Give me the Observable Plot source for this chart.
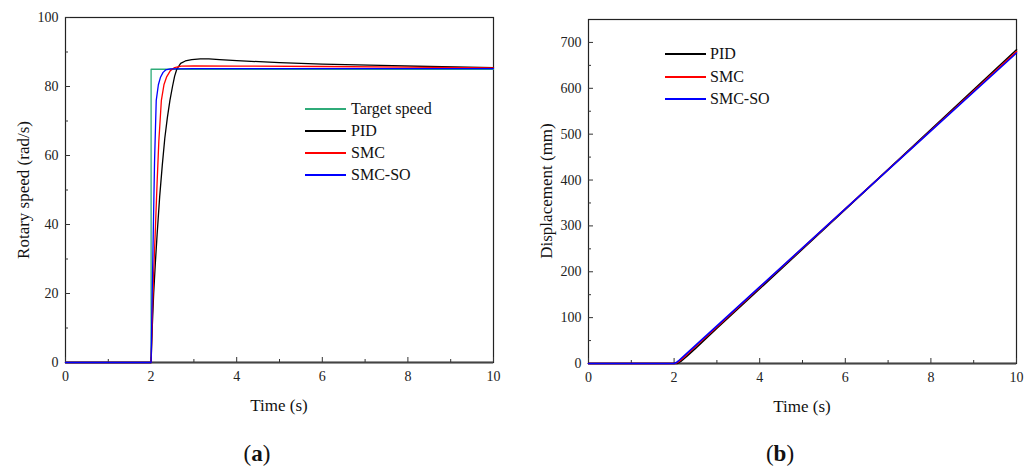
<!DOCTYPE html>
<html><head><meta charset="utf-8">
<script src="https://cdn.jsdelivr.net/npm/d3@7"></script>
<script src="https://cdn.jsdelivr.net/npm/@observablehq/plot@0.6"></script>
<style>
body{margin:0;background:#fff;font-family:"Liberation Serif",serif;}
#wrap{position:relative;width:1035px;height:469px;overflow:hidden;background:#fff}
.p{position:absolute;top:0}
.t{position:absolute;white-space:nowrap;color:#111;font-size:17px;line-height:1;font-family:"Liberation Serif",serif}
.lg{position:absolute;height:1.6px;width:41px}
.cap{position:absolute;font-size:23px;line-height:1;white-space:nowrap;font-family:"Liberation Serif",serif;color:#111}
</style></head>
<body><div id="wrap"></div>
<script>
// ---- Panel (a): rotary speed ----
const names = ["Target speed", "PID", "SMC", "SMC-SO"];
const colors = ["#2fab79", "#000000", "#ff0000", "#0000ff"];

const tTarget = [0, 2, 2, 10];
const vTarget = [0, 0, 85, 85];

const tPID = [0, 2, 2.03, 2.06, 2.1, 2.14, 2.2, 2.26, 2.32, 2.38, 2.44, 2.5, 2.55, 2.6, 2.69, 2.8, 2.95, 3.15, 3.35, 3.6, 4, 5, 6, 7.36, 8.5, 10];
const vPID = [0, 0, 11, 20, 29, 37, 48, 57, 65, 71, 76, 80, 83, 85, 86.7, 87.4, 87.8, 88.0, 88.0, 87.8, 87.5, 86.9, 86.5, 86.1, 85.8, 85.5];

const tSMC = [0, 2, 2.03, 2.06, 2.095, 2.14, 2.18, 2.24, 2.3, 2.36, 2.45, 2.55, 2.7, 3, 4, 6, 8, 10];
const vSMC = [0, 0, 14, 26, 37, 52, 64, 76, 80.5, 82.7, 84.6, 85.5, 85.9, 86.0, 85.9, 85.8, 85.6, 85.4];

const tSO = [0, 2, 2.02, 2.05, 2.08, 2.12, 2.17, 2.22, 2.28, 2.34, 2.45, 3, 10];
const vSO = [0, 0, 16, 37, 58, 76, 80.5, 82.7, 84.1, 84.8, 85.1, 85.2, 85.2];

const xMajor = [0, 2, 4, 6, 8, 10];
const xMinor = [1, 3, 5, 7, 9];
const yMajorA = [0, 20, 40, 60, 80, 100];
const yMinorA = [10, 30, 50, 70, 90];

// ---- Panel (b): displacement ----
const namesB = ["PID", "SMC", "SMC-SO"];
const colorsB = ["#000000", "#ff0000", "#0000ff"];
const tdPID = [0, 2, 2.07, 2.15, 2.3, 2.5, 3, 4, 6, 8, 10];
const dPID  = [0, 0, 0, 4, 16, 33, 77, 163, 336, 510, 684];
const tdSMC = [0, 2, 2.05, 2.1, 2.2, 2.5, 3, 4, 6, 8, 10];
const dSMC  = [0, 0, 1, 3.5, 11, 37, 80, 166, 337, 508, 680];
const tdSO  = [0, 2, 2.05, 2.1, 2.2, 2.5, 3, 4, 6, 8, 10];
const dSO   = [0, 0, 2, 5.5, 14, 39.5, 82, 167, 337, 507, 677];
const yMajorB = [0, 100, 200, 300, 400, 500, 600, 700];
const yMinorB = [50, 150, 250, 350, 450, 550, 650];

function rows(name, ts, vs){ return ts.map((t,i)=>({s:name, t, v:vs[i]})); }

const dataA = [
  ...rows(names[0], tTarget, vTarget),
  ...rows(names[1], tPID, vPID),
  ...rows(names[2], tSMC, vSMC),
  ...rows(names[3], tSO, vSO)
];
const dataB = [
  ...rows(namesB[0], tdPID, dPID),
  ...rows(namesB[1], tdSMC, dSMC),
  ...rows(namesB[2], tdSO, dSO)
];

const blank = () => "";
function axes(yMajor, yMinor){
  return [
    Plot.axisX({ticks: xMajor, tickSize: -5, tickFormat: blank, label: null, stroke:"#333"}),
    Plot.axisX({ticks: xMinor, tickSize: -3, tickFormat: blank, label: null, stroke:"#333"}),
    Plot.axisX({ticks: xMajor, tickSize: 0, tickPadding: 9, label: null, fill:"#222"}),
    Plot.axisY({ticks: yMajor, tickSize: -5, tickFormat: blank, label: null, stroke:"#333"}),
    Plot.axisY({ticks: yMinor, tickSize: -3, tickFormat: blank, label: null, stroke:"#333"}),
    Plot.axisY({ticks: yMajor, tickSize: 0, tickPadding: 7, label: null, fill:"#222"})
  ];
}

const style = {fontFamily: '"Liberation Serif", serif', fontSize: "14px", color: "#222", background: "transparent", overflow: "visible"};

const plotA = Plot.plot({
  width: 517, height: 430,
  marginLeft: 65, marginRight: 24, marginTop: 17, marginBottom: 68,
  style,
  x: {domain: [0, 10]},
  y: {domain: [0, 100]},
  color: {domain: names, range: colors},
  marks: [
    Plot.frame({stroke: "#222", strokeWidth: 1.2}),
    Plot.ruleY([0], {stroke: "#444", strokeWidth: 1.8}),
    ...axes(yMajorA, yMinorA),
    Plot.line(dataA, {x: "t", y: "v", z: "s", stroke: "s", strokeWidth: 1.3})
  ]
});
const plotB = Plot.plot({
  width: 517, height: 430,
  marginLeft: 70, marginRight: 19, marginTop: 19, marginBottom: 67,
  style,
  x: {domain: [0, 10]},
  y: {domain: [0, 750]},
  color: {domain: namesB, range: colorsB},
  marks: [
    Plot.frame({stroke: "#222", strokeWidth: 1.2}),
    Plot.ruleY([0], {stroke: "#444", strokeWidth: 1.8}),
    ...axes(yMajorB, yMinorB),
    Plot.line(dataB, {x: "t", y: "v", z: "s", stroke: "s", strokeWidth: 1.6})
  ]
});

const wrap = document.getElementById("wrap");
plotA.classList.add("p"); plotA.style.left = "0px";
plotB.classList.add("p"); plotB.style.left = "518px";
wrap.appendChild(plotA); wrap.appendChild(plotB);

function txt(s, x, y, opts = {}){
  const d = document.createElement("div");
  d.className = opts.cls || "t";
  d.innerHTML = s;
  d.style.left = x + "px"; d.style.top = y + "px";
  if (opts.center) d.style.transform = "translate(-50%,-50%)";
  if (opts.rot) d.style.transform = "translate(-50%,-50%) rotate(-90deg)";
  if (opts.vmid) d.style.transform = "translateY(-50%)";
  if (opts.size) d.style.fontSize = opts.size + "px";
  wrap.appendChild(d);
}
function leg(color, x, y){
  const d = document.createElement("div");
  d.className = "lg"; d.style.left = x + "px"; d.style.top = (y - 0.8) + "px"; d.style.backgroundColor = color;
  wrap.appendChild(d);
}
// axis titles
txt("Time (s)", 279, 405, {center: true});
txt("Rotary speed (rad/s)", 23, 190, {rot: true});
txt("Time (s)", 802, 406, {center: true});
txt("Displacement (mm)", 546, 191, {rot: true});
// captions
txt("(<b>a</b>)", 257, 453, {center: true, cls: "cap"});
txt("(<b>b</b>)", 780, 453, {center: true, cls: "cap"});
// legends
const legAy = [109, 131, 153, 175];
names.forEach((n, i) => { leg(colors[i], 305, legAy[i]); txt(n, 351, legAy[i], {size: 16, vmid: true}); });
const legBy = [54, 77, 99];
namesB.forEach((n, i) => { leg(colorsB[i], 665, legBy[i]); txt(n, 710, legBy[i], {size: 16, vmid: true}); });
</script>
</body></html>
